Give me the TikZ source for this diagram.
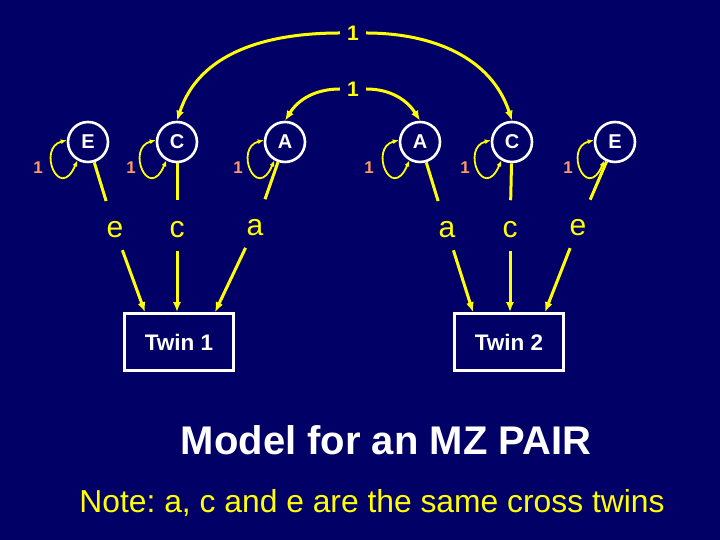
\documentclass[tikz,border=0pt]{standalone}
\usepackage{fontspec}
\setmainfont{Liberation Sans}
\usepackage{xcolor}
\usepackage{tikz}
\usetikzlibrary{arrows.meta,calc}
\definecolor{SlideNavy}{HTML}{000066}
\definecolor{SlideYellow}{HTML}{FFFF00}
\definecolor{SlideSalmon}{HTML}{FF9966}
\frenchspacing
\tikzset{
  latent/.style={circle,draw=white,line width=2.6pt,minimum size=40pt,
                 inner sep=0pt,text=white,font=\bfseries\fontsize{20}{20}\selectfont},
  pathlbl/.style={text=SlideYellow,font=\fontsize{30}{30}\selectfont},
  twinbox/.style={draw=white,line width=2.6pt,minimum width=109pt,
                  minimum height=57pt,text=white,
                  font=\bfseries\fontsize{22.5}{22.5}\selectfont},
  varone/.style={text=SlideSalmon,font=\bfseries\fontsize{17}{17}\selectfont},
  corone/.style={text=SlideYellow,inner xsep=7pt,
                 font=\bfseries\fontsize{21}{21}\selectfont},
  loading/.style={draw=SlideYellow,line width=3pt,shorten >=18pt},
  effect/.style={->,draw=SlideYellow,line width=3pt,shorten <=9pt},
  corr/.style={->,draw=SlideYellow,line width=3pt},
  selfloop/.style={<->,draw=SlideYellow,line width=1.8pt,
                   >={Latex[length=6pt,width=5pt]}}
}

\begin{document}
\begin{tikzpicture}[x=1pt,y=1pt,>={Latex[length=10pt,width=8pt]}]
  \fill[SlideNavy] (0,0) rectangle (720,540);
  \useasboundingbox (0,0) rectangle (720,540);
  % Latent factors, twin 1.
  \node[latent] (E1) at (88,398) {E};
  \node[latent] (C1) at (177,398) {C};
  \node[latent] (A1) at (285,398) {A};
  % Latent factors, twin 2.
  \node[latent] (A2) at (420,398) {A};
  \node[latent] (C2) at (512,398) {C};
  \node[latent] (E2) at (615,398) {E};
  % Variances.
  \node[varone] (vE1) at (38,372) {1};
  \node[varone] (vC1) at (131,372) {1};
  \node[varone] (vA1) at (238,372) {1};
  \node[varone] (vA2) at (369,372) {1};
  \node[varone] (vC2) at (465,372) {1};
  \node[varone] (vE2) at (568,372) {1};
  \draw[selfloop] (E1.175) .. controls +(-30,-8) and +(-18,-42) .. (E1.240);
  \draw[selfloop] (C1.175) .. controls +(-30,-8) and +(-18,-42) .. (C1.240);
  \draw[selfloop] (A1.175) .. controls +(-30,-8) and +(-18,-42) .. (A1.240);
  \draw[selfloop] (A2.175) .. controls +(-30,-8) and +(-18,-42) .. (A2.240);
  \draw[selfloop] (C2.175) .. controls +(-30,-8) and +(-18,-42) .. (C2.240);
  \draw[selfloop] (E2.175) .. controls +(-30,-8) and +(-18,-42) .. (E2.240);
  % Path coefficients.
  \node[pathlbl] (e1) at (115,310) {e};
  \node[pathlbl] (c1) at (177,310) {c};
  \node[pathlbl] (a1) at (255,312) {a};
  \node[pathlbl] (a2) at (447,310) {a};
  \node[pathlbl] (c2) at (510,310) {c};
  \node[pathlbl] (e2) at (578,312) {e};
  \draw[loading] (E1) -- (e1);
  \draw[loading] (C1) -- (c1);
  \draw[loading] (A1) -- (a1);
  \draw[loading] (A2) -- (a2);
  \draw[loading] (C2) -- (c2);
  \draw[loading] (E2) -- (e2);
  % Observed twins.
  \node[twinbox] (T1) at (179,198) {Twin 1};
  \node[twinbox] (T2) at (509,198) {Twin 2};
  \draw[effect] (e1) -- ([xshift=-34pt]T1.north);
  \draw[effect] (c1) -- (c1 |- T1.north);
  \draw[effect] (a1) -- ([xshift=36pt]T1.north);
  \draw[effect] (a2) -- ([xshift=-36pt]T2.north);
  \draw[effect] (c2) -- (c2 |- T2.north);
  \draw[effect] (e2) -- ([xshift=36pt]T2.north);
  % Correlations across twins.
  \node[corone] (rC) at (353,507) {1};
  \node[corone] (rA) at (353,451) {1};
  \draw[corr] (rC.west) to[out=180,in=72] (C1.north);
  \draw[corr] (rC.east) to[out=0,in=108] (C2.north);
  \draw[corr] (rA.west) to[out=180,in=58] (A1.north);
  \draw[corr] (rA.east) to[out=0,in=122] (A2.north);
  % Captions.
  \node[text=white,font=\bfseries\fontsize{40}{40}\selectfont]
        (title) at (386,100) {Model for an MZ PAIR};
  \node[text=SlideYellow,font=\fontsize{31.8}{31.8}\selectfont]
        (note) at (372,37) {Note: a, c and e are the same cross twins};
\end{tikzpicture}
\end{document}
